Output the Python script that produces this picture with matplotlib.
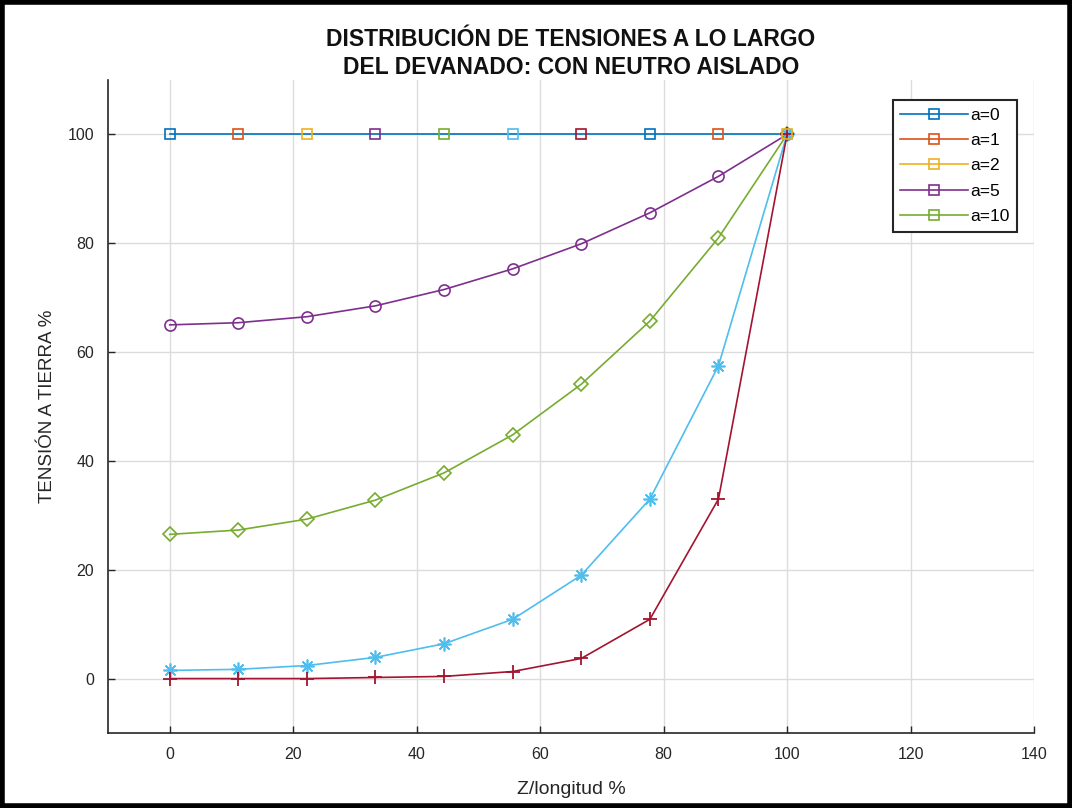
import numpy as np
import matplotlib.pyplot as plt
from matplotlib.lines import Line2D

# Z/longitud % positions (10 points along the winding)
z = [0, 11.11, 22.22, 33.33, 44.44, 55.56, 66.67, 77.78, 88.89, 100]

# Tension a tierra % for each curve
v_a0 = [100, 100, 100, 100, 100, 100, 100, 100, 100, 100]
v_circ = [65.0, 65.4, 66.5, 68.5, 71.5, 75.3, 79.9, 85.6, 92.3, 100]
v_diam = [26.5, 27.3, 29.3, 32.8, 37.8, 44.8, 54.1, 65.7, 81.0, 100]
v_star = [1.5, 1.7, 2.4, 3.9, 6.4, 10.9, 19.0, 33.0, 57.5, 100]
v_plus = [0.0, 0.0, 0.0, 0.2, 0.4, 1.3, 3.7, 10.9, 33.0, 100]

legend_labels = ['a=0', 'a=1', 'a=2', 'a=5', 'a=10']

# MATLAB default color order
colors = ['#0072BD', '#D95319', '#EDB120', '#7E2F8E', '#77AC30', '#4DBEEE', '#A2142F']

plt.rcParams['font.family'] = ['Liberation Sans', 'DejaVu Sans']

fig = plt.figure(figsize=(10.72, 8.08), dpi=100)
ax = fig.add_axes([108/1072, 1 - 733/808, (1034-108)/1072, (733-80)/808])

# a=0 line, markers cycle through the color order
ax.plot(z, v_a0, '-', color=colors[0], lw=1.2, zorder=3)
for i in range(len(z)):
  ax.plot(z[i], v_a0[i], 's', color=colors[i % len(colors)], mfc='none',
    ms=7, mew=1.2, zorder=4)

ax.plot(z, v_circ, '-o', color=colors[3], mfc='none', ms=8, mew=1.2, lw=1.2, zorder=3)
ax.plot(z, v_diam, '-D', color=colors[4], mfc='none', ms=7, mew=1.2, lw=1.2, zorder=3)
ax.plot(z, v_star, '-', marker=(8, 2, 0), color=colors[5], ms=10, mew=1.2, lw=1.2, zorder=3)
ax.plot(z, v_plus, '-+', color=colors[6], ms=10, mew=1.3, lw=1.2, zorder=3)

ax.set_xlim(-10, 140)
ax.set_ylim(-10, 110)
ax.set_xticks(range(0, 141, 20))
ax.set_yticks(range(0, 101, 20))
ax.grid(True, color='#dcdcdc', lw=1.0)
ax.set_axisbelow(True)
for s in ['top', 'right']:
  ax.spines[s].set_visible(False)
for s in ['left', 'bottom']:
  ax.spines[s].set_color('#262626')
  ax.spines[s].set_linewidth(1.2)
ax.tick_params(direction='in', length=5, width=1, colors='#262626',
  labelsize=11.5, pad=10)

ax.set_xlabel('Z/longitud %', fontsize=14, color='#262626', labelpad=14)
ax.set_ylabel('TENSIÓN A TIERRA %', fontsize=13.5, color='#262626', labelpad=8)
ax.set_title('DISTRIBUCIÓN DE TENSIONES A LO LARGO\nDEL DEVANADO: CON NEUTRO AISLADO',
  fontsize=16.5, fontweight='bold', color='#111111', pad=4, linespacing=1.3)

handles = [Line2D([], [], color=colors[i], marker='s', mfc='none', ms=7,
  mew=1.2, lw=1.2) for i in range(len(legend_labels))]
leg = ax.legend(handles, legend_labels, loc='upper right',
  bbox_to_anchor=(1017/1072, 1 - 100/808), bbox_transform=fig.transFigure,
  fontsize=12.5, fancybox=False, edgecolor='#262626', framealpha=1,
  handlelength=3.9, handletextpad=0.1, labelspacing=0.58, borderpad=0.45,
  borderaxespad=0)
leg.get_frame().set_linewidth(1.5)

# black frame round the figure
fig.patches.append(plt.Rectangle((0.002, 0.003), 0.996, 0.994, fill=False,
  edgecolor='black', lw=4, transform=fig.transFigure, figure=fig))

fig.savefig('out.png', dpi=100)
